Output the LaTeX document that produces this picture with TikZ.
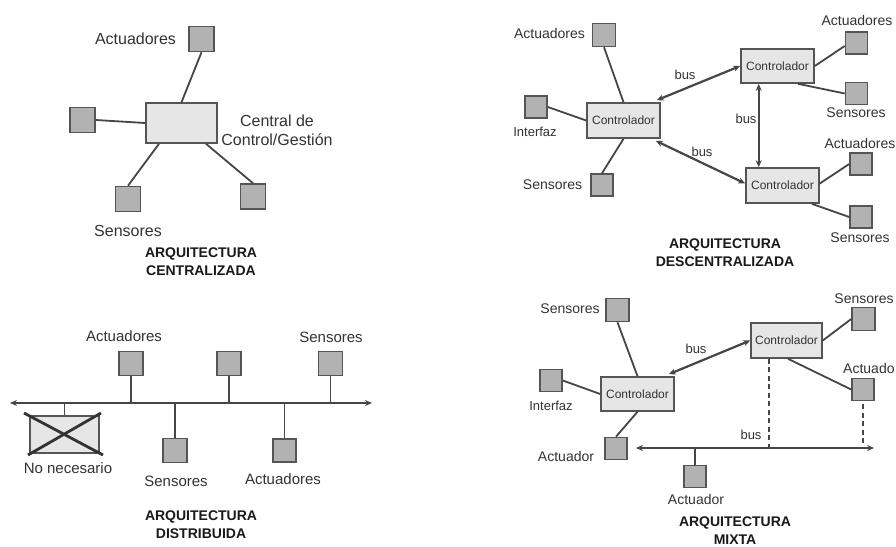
\documentclass[tikz,border=0pt]{standalone}
\usepackage{fontspec}
\setmainfont{Liberation Sans}
\usetikzlibrary{arrows.meta,calc}
\definecolor{sqfill}{HTML}{B2B2B2}
\definecolor{sqdraw}{HTML}{555555}
\definecolor{boxfill}{HTML}{E6E6E6}
\definecolor{lnc}{HTML}{464646}
\definecolor{txt}{HTML}{333333}
\tikzset{
  sq/.style={draw=sqdraw, fill=sqfill, line width=1.6pt, inner sep=0pt, minimum width=#1, minimum height=#1},
  sq/.default=22pt,
  ctrl/.style={draw=sqdraw, fill=boxfill, line width=1.6pt, inner sep=0pt, minimum width=72pt, minimum height=34pt,
    font=\fontsize{12}{14}\selectfont, text=txt},
  conn/.style={draw=lnc, line width=1.8pt},
  busar/.style={draw=lnc, line width=2.2pt, {Stealth[length=7pt,width=6pt]}-{Stealth[length=7pt,width=6pt]}},
  dbus/.style={draw=lnc, line width=1.7pt, dash pattern=on 5pt off 3.5pt},
  lab/.style={font=\fontsize{#1}{#1}\selectfont, text=txt, inner sep=0pt},
  ttl/.style={font=\bfseries\fontsize{14}{17.5}\selectfont, text=black!90, align=center, inner sep=0pt}
}
\begin{document}
\begin{tikzpicture}[x=1pt,y=-1pt]
\useasboundingbox[fill=white] (0,0) rectangle (896,546);

% ---------------- Centralizada ----------------
\node[draw=sqdraw, fill=boxfill, line width=1.6pt, minimum width=71pt, minimum height=40pt, inner sep=0pt] (cen) at (181.5,123) {};
\node[sq=25pt] (cA) at (201.5,39) {};
\node[sq=25pt] (cL) at (82.5,120) {};
\node[sq=25pt] (cS) at (128,199) {};
\node[sq=25pt] (cR) at (253,196.5) {};
\draw[conn] (cA.south) -- (cen.north);
\draw[conn] (cL.east) -- (cen.west);
\draw[conn] ($(cen.south)+(-22.5,0)$) -- (cS.north);
\draw[conn] ($(cen.south)+(24.5,0)$) -- (cR.north);
\node[lab=16] (tcA) at (135.5,39) {Actuadores};
\node[lab=16] (tcS) at (128,231) {Sensores};
\node[lab=16, align=center, font=\fontsize{16}{19}\selectfont] (tcC) at (277,130) {Central de\\Control/Gestión};
\node[ttl] (t1) at (201,261.5) {ARQUITECTURA\\CENTRALIZADA};

% ---------------- Descentralizada ----------------
\node[ctrl, minimum width=73pt, minimum height=35pt] (dL) at (623.5,120.5) {Controlador};
\node[ctrl, minimum width=73pt, minimum height=34pt] (dT) at (777.5,66) {Controlador};
\node[ctrl, minimum width=73pt, minimum height=35pt] (dB) at (782.5,185.5) {Controlador};
\node[sq=23pt] (dA) at (604,35) {};
\node[sq=22pt] (dI) at (536,107) {};
\node[sq=22pt] (dS) at (602,185) {};
\node[sq=22pt] (dTA) at (856.5,43) {};
\node[sq=22pt] (dTS) at (856.5,93.5) {};
\node[sq=22pt] (dBA) at (861,164) {};
\node[sq=22pt] (dBS) at (861,217) {};
\draw[conn] (dA.south) -- (dL.north);
\draw[conn] (dI.east) -- (dL.west);
\draw[conn] (dS.north) -- (dL.south);
\draw[conn] (dT.east) -- ($(dTA.west)+(0,3)$);
\draw[conn] ($(dT.south)+(20.5,0)$) -- (dTS.west);
\draw[conn] ($(dB.east)+(0,-2)$) -- (dBA.west);
\draw[conn] ($(dB.south east)+(-8,0)$) -- (dBS.west);
\draw[busar] ($(dL.north east)+(-4,-2)$) -- (dT.west);
\draw[busar] ($(dT.south west)+(18.5,0)$) -- ($(dB.north west)+(13.5,0)$);
\draw[busar] ($(dL.south east)+(-5,2)$) -- ($(dB.west)+(0,-2)$);
\node[lab=14] (tdA) at (549.5,33) {Actuadores};
\node[lab=13] (tdI) at (535,132) {Interfaz};
\node[lab=14] (tdS) at (552.5,185) {Sensores};
\node[lab=14] (tdTA) at (857,20) {Actuadores};
\node[lab=14] (tdTS) at (856,113) {Sensores};
\node[lab=14] (tdBA) at (860,143) {Actuadores};
\node[lab=14] (tdBS) at (860,238) {Sensores};
\node[lab=13] (tb1) at (685,75) {bus};
\node[lab=13] (tb2) at (746,119) {bus};
\node[lab=13] (tb3) at (702,152) {bus};
\node[ttl] (t2) at (725,252.5) {ARQUITECTURA\\DESCENTRALIZADA};

% ---------------- Distribuida ----------------
\coordinate (bL) at (10,403);
\coordinate (bR) at (372,403);
\draw[busar] (bL) -- (bR);
\node[sq=24pt] (s1) at (131,363.5) {};
\node[sq=24pt] (s2) at (229,363.5) {};
\node[sq=24pt] (s3) at (330.5,363.5) {};
\node[sq=24pt] (s4) at (175,450.5) {};
\node[sq=23pt] (s5) at (284.5,450.5) {};
\node[draw=sqdraw, fill=boxfill, line width=1.6pt, minimum width=69pt, minimum height=37pt, inner sep=0pt] (nn) at (64.5,434.5) {};
\draw[conn] (s1.south) -- (s1.south |- bL);
\draw[conn] (s2.south) -- (s2.south |- bL);
\draw[conn] (s3.south) -- (s3.south |- bL);
\draw[conn] (s4.north) -- (s4.north |- bL);
\draw[conn] (s5.north) -- (s5.north |- bL);
\draw[conn] (nn.north) -- (nn.north |- bL);
\coordinate (x1) at (24,413);
\coordinate (x2) at (103,455);
\coordinate (x3) at (28,455);
\coordinate (x4) at (101,413);
\draw[draw=black!80, line width=2.8pt] (x1) -- (x2);
\draw[draw=black!80, line width=2.8pt] (x3) -- (x4);
\node[lab=15] (ts1) at (124,336) {Actuadores};
\node[lab=15] (ts3) at (331,337) {Sensores};
\node[lab=15] (ts4) at (176,481) {Sensores};
\node[lab=15] (ts5) at (283,479) {Actuadores};
\node[lab=15] (tnn) at (68,468) {No necesario};
\node[ttl] (t3) at (201,524.5) {ARQUITECTURA\\DISTRIBUIDA};

% ---------------- Mixta ----------------
\node[ctrl, minimum width=73pt, minimum height=34pt] (mL) at (637.5,394) {Controlador};
\node[ctrl, minimum width=71pt, minimum height=35pt] (mR) at (786.5,340.5) {Controlador};
\node[sq=23pt] (mS) at (617.5,310) {};
\node[sq=22pt] (mI) at (551,380.5) {};
\node[sq=22pt] (mA) at (616,448.5) {};
\node[sq=23pt] (mRS) at (863.5,319) {};
\node[sq=22pt] (mRA) at (863,389.5) {};
\node[sq=22pt] (mBA) at (695,476.5) {};
\coordinate (hL) at (636,448);
\coordinate (hR) at (874,448);
\coordinate (mRd) at ($(mR.south)+(-17.5,0)$);
\draw[busar] (hL) -- (hR);
\draw[conn] (mBA.north) -- (mBA.north |- hL);
\draw[dbus] (mRd) -- (mRd |- hL);
\draw[dbus] ($(mRA.south)+(0,3)$) -- (mRA.south |- hL);
\draw[busar] ($(mL.north east)+(-6,-2)$) -- (mR.west);
\draw[conn] (mS.south) -- (mL.north);
\draw[conn] (mI.east) -- (mL.west);
\draw[conn] (mL.south) -- (mA.north);
\draw[conn] (mR.east) -- (mRS.west);
\draw[conn] ($(mR.south)+(1.5,0)$) -- (mRA.west);
\node[lab=14] (tmS) at (570,309) {Sensores};
\node[lab=13] (tmI) at (551,406) {Interfaz};
\node[lab=14] (tmA) at (566,456) {Actuador};
\node[lab=14] (tmBA) at (696,499) {Actuador};
\node[lab=14] (tmRS) at (864,299) {Sensores};
\node[lab=14, anchor=west] (tmRA) at (843,368) {Actuado};
\node[lab=13] (tmb1) at (696,349) {bus};
\node[lab=13] (tmb2) at (751,435) {bus};
\node[ttl] (t4) at (735,530.5) {ARQUITECTURA\\MIXTA};
\end{tikzpicture}
\end{document}
